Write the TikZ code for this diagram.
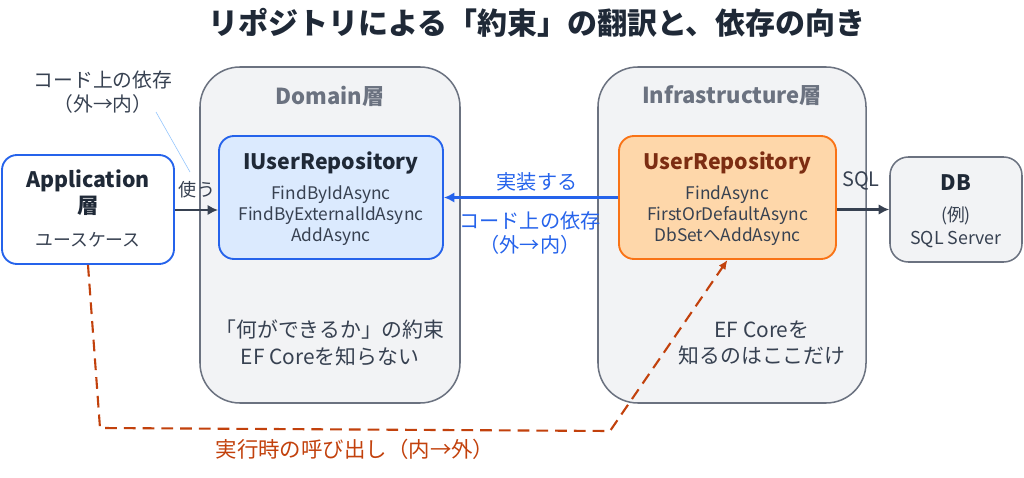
\documentclass[tikz,border=0pt]{standalone}
\usepackage{fontspec}
\setmainfont{Noto Sans CJK JP}
\usetikzlibrary{arrows.meta,calc}
\definecolor{ink}{HTML}{1F2937}
\definecolor{txt}{HTML}{374151}
\definecolor{hdr}{HTML}{6B7280}
\definecolor{cfill}{HTML}{F2F3F5}
\definecolor{cline}{HTML}{6B7280}
\definecolor{blu}{HTML}{2563EB}
\definecolor{blufill}{HTML}{DBEAFE}
\definecolor{org}{HTML}{F97316}
\definecolor{orgfill}{HTML}{FED7AA}
\definecolor{brn}{HTML}{7C2D12}
\definecolor{run}{HTML}{C2410C}
\definecolor{lblu}{HTML}{93C5FD}
\tikzset{
  container/.style={draw=cline, fill=cfill, line width=1.3pt, rounded corners=1.2cm},
  box/.style={line width=1.6pt, rounded corners=0.45cm},
  hdrtxt/.style={font=\fontsize{18.8}{22}\selectfont\bfseries, text=hdr},
  ttltxt/.style={font=\fontsize{18.2}{22}\selectfont\bfseries},
  bodytxt/.style={font=\fontsize{14.8}{18}\selectfont, text=txt, align=center},
  bigtxt/.style={font=\fontsize{17.8}{23}\selectfont, text=txt, align=center},
  deparrow/.style={line width=2.4pt, -{Latex[length=9pt,width=9pt]}},
}
\begin{document}
\begin{tikzpicture}[x=0.03cm,y=-0.03cm]
\useasboundingbox (0,0) rectangle (1024,478);
% title
\node[font=\fontsize{25.6}{30}\selectfont\bfseries, text=ink] (title) at (537,23) {リポジトリによる「約束」の翻訳と、依存の向き};
% containers
\node[container, minimum width=7.8cm, minimum height=10.08cm] (dom) at (330,235) {};
\node[container, minimum width=8.04cm, minimum height=10.08cm] (inf) at (732,235) {};
\node[hdrtxt] (domh) at (330,96) {Domain層};
\node[hdrtxt] (infh) at (732,96) {Infrastructure層};
% boxes
\node[box, draw=blu, fill=white, minimum width=5.16cm, minimum height=3.27cm] (app) at (88,209.5) {};
\node[text=ink, align=center, font=\fontsize{18.2}{22}\selectfont\bfseries] (appt) at (88,193) {Application\\層};
\node[font=\fontsize{15.2}{18}\selectfont, text=txt] (appu) at (88,240) {ユースケース};

\node[box, draw=blu, fill=blufill, minimum width=6.72cm, minimum height=3.69cm] (iuser) at (331,197.5) {};
\node[ttltxt, text=ink] (iusert) at (331,163) {IUserRepository};
\node[bodytxt] (iuserb) at (331,215.5) {FindByIdAsync\\FindByExternalIdAsync\\AddAsync};

\node[box, draw=org, fill=orgfill, minimum width=6.51cm, minimum height=3.69cm] (urepo) at (727.5,197.5) {};
\node[ttltxt, text=brn] (urepot) at (727.5,163) {UserRepository};
\node[bodytxt] (urepob) at (727.5,215.5) {FindAsync\\FirstOrDefaultAsync\\DbSetへAddAsync};

\node[box, draw=cline, fill=cfill, line width=1.3pt, minimum width=3.96cm, minimum height=3.15cm, rounded corners=0.55cm] (db) at (956,209.5) {};
\node[ttltxt, text=ink] (dbt) at (956,183) {DB};
\node[bodytxt, font=\fontsize{15.2}{20}\selectfont] (dbb) at (956,227) {(例)\\SQL Server};

% container texts
\node[bigtxt] (domtxt) at (330,343) {「何ができるか」の約束\\EF Coreを知らない};
\node[bigtxt] (inftxt) at (762,343) {EF Coreを\\知るのはここだけ};

% uses arrow
\draw[deparrow, draw=txt] (app.east |- 0,210) -- (iuser.west |- 0,210);
\node[bigtxt, font=\fontsize{15.4}{18}\selectfont] (uses) at (197,190) {使う};
% annotation
\node[bigtxt, font=\fontsize{16.9}{20}\selectfont] (ann) at (103,92) {コード上の依存\\（外→内）};
\coordinate (annA) at (156,112);
\coordinate (annB) at (190,172);
\draw[lblu, line width=0.5pt] (annA) -- (annB);

% implements arrow
\draw[deparrow, draw=blu] (urepo.west) -- (iuser.east);
\node[bigtxt, text=blu, font=\fontsize{17.2}{20}\selectfont] (impl) at (537,182) {実装する};
\node[bigtxt, text=blu, font=\fontsize{17.2}{20}\selectfont] (impl2) at (530,233) {コード上の依存\\（外→内）};

% SQL arrow
\draw[deparrow, draw=txt] (urepo.east |- db.west) -- (db.west);
\node[bigtxt, font=\fontsize{17}{18}\selectfont] (sql) at (861,181) {SQL};

% runtime call
\coordinate (r1) at (100,428);
\coordinate (r2) at (610,431);
\draw[run, line width=1.8pt, dash pattern=on 10pt off 6pt, -{Latex[length=8pt,width=7pt]}] (app.south) -- (r1) -- (r2) -- (urepo.south);
\node[bigtxt, text=run, font=\fontsize{18.3}{20}\selectfont] (runl) at (355,449) {実行時の呼び出し（内→外）};
\end{tikzpicture}
\end{document}
